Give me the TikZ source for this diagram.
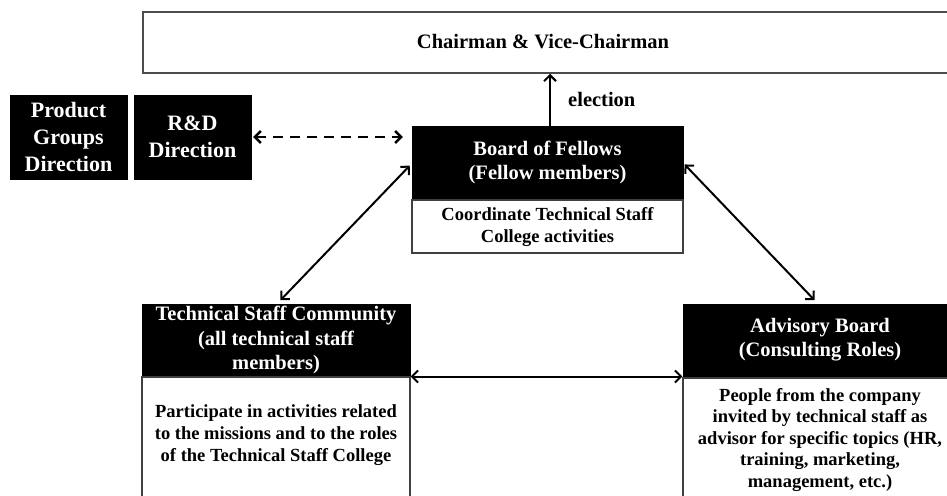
\documentclass[tikz,border=0pt]{standalone}
\usepackage{fontspec}
\setmainfont{Liberation Serif}
\usetikzlibrary{arrows.meta,calc}
\begin{document}
\begin{tikzpicture}[x=1pt,y=-1pt,
  blackbox/.style={fill=black, draw=black, text=white, inner sep=0pt, align=center,
    font=\fontsize{20.5}{24.5}\selectfont\bfseries},
  sidebox/.style={blackbox, minimum width=117pt, minimum height=84pt,
    font=\fontsize{22}{27}\selectfont\bfseries},
  whitebox/.style={fill=white, draw=black!75, line width=1.3pt, inner sep=0pt},
  bodytext/.style={align=center, inner sep=0pt, font=\fontsize{18.5}{21.5}\selectfont\bfseries},
  headtext/.style={align=center, inner sep=0pt, font=\fontsize{20.5}{24.5}\selectfont\bfseries},
  link/.style={line width=2pt, {Straight Barb[length=6pt,width=12pt]}-{Straight Barb[length=6pt,width=12pt]}},
]
\useasboundingbox (0,0) rectangle (947,495);

% Chairman box (open to the right)
\node[draw=black!70, line width=1.5pt, minimum width=820pt, minimum height=61pt, inner sep=0pt] (chair) at (553,42.5) {};
\node[headtext] (chairtxt) at (543,42) {Chairman \& Vice-Chairman};

% left black boxes
\node[sidebox] (pgd) at (68.5,137) {Product\\Groups\\Direction};
\node[sidebox] (rd) at (192.5,137) {R\&D\\Direction};

% Board of Fellows
\node[blackbox, minimum width=271pt, minimum height=73pt] (board) at (547.5,162.5) {Board of Fellows\\(Fellow members)};
\node[whitebox, minimum width=271pt, minimum height=53pt, anchor=north] (boardw) at (board.south) {};
\node[bodytext] (boardtxt) at (547.5,227) {Coordinate Technical Staff\\College activities};

% Technical Staff Community
\node[blackbox, minimum width=268pt, minimum height=72pt] (tech) at (276,340) {Technical Staff Community\\(all technical staff\\members)};
\node[whitebox, minimum width=268pt, minimum height=150pt, anchor=north] (techw) at (tech.south) {};
\node[bodytext, font=\fontsize{18.5}{22}\selectfont\bfseries] (techtxt) at (276,435) {Participate in activities related\\to the missions and to the roles\\of the Technical Staff College};

% Advisory Board
\node[blackbox, minimum width=280pt, minimum height=73pt] (adv) at (823,340.5) {};
\node[headtext, text=white] (advhead) at (820,339.5) {Advisory Board\\(Consulting Roles)};
\node[whitebox, minimum width=280pt, minimum height=150pt, anchor=north] (advw) at (adv.south) {};
\node[bodytext] (advtxt) at (820,440) {People from the company\\invited by technical staff as\\advisor for specific topics (HR,\\training, marketing,\\management, etc.)};

% connectors
\coordinate (estart) at ($(board.north)+(2.5,0)$);
\draw[line width=2pt, -{Straight Barb[length=6pt,width=12pt]}] (estart) -- (estart |- chair.south);
\node[headtext, anchor=west] (elect) at (568,99) {election};

\coordinate (dy) at (0,137);
\draw[link, dash pattern=on 10pt off 7pt, line width=2.4pt, shorten <=2pt, shorten >=9pt] (rd.east |- dy) -- (board.west |- dy);

\draw[link, shorten <=3pt, shorten >=5pt] ($(board.west)+(0,1)$) -- ($(tech.north)+(1,0)$);
\draw[link, shorten <=2pt, shorten >=5pt] ($(board.east)+(0,0.5)$) -- ($(adv.north)+(-5,0)$);
\coordinate (hy) at (0,376.5);
\draw[link] (techw.east |- hy) -- (advw.west |- hy);
\end{tikzpicture}
\end{document}
